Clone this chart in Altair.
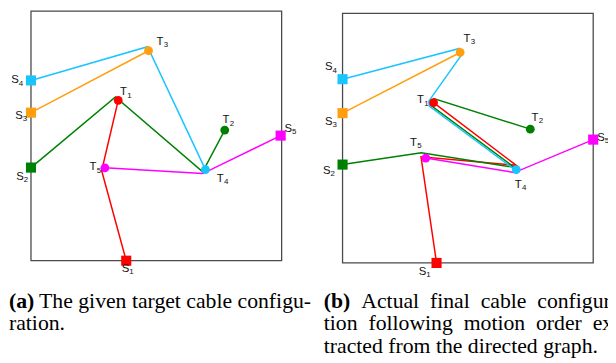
import altair as alt
import pandas as pd

# ---------------- data (panel-local units, box = 10 x 10) -------------
NODE_NAMES = ["S1", "S2", "S3", "S4", "S5", "T1", "T2", "T3", "T4", "T5"]
NODE_CABLE = ["red", "green", "orange", "cyan", "magenta",
              "red", "green", "orange", "cyan", "magenta"]

# panel (a): given target configuration
A_NODE_X = [3.80, 0.00, 0.00, 0.00, 9.96, 3.48, 7.73, 4.69, 6.96, 2.95]
A_NODE_Y = [0.00, 3.73, 5.93, 7.22, 5.01, 6.42, 5.23, 8.41, 3.65, 3.72]
A_LABEL_X = [3.77, -0.44, -0.48, -0.64, 10.26, 3.69, 7.78, 5.15, 7.55, 2.47]
A_LABEL_Y = [-0.33, 3.35, 5.80, 7.22, 5.28, 6.75, 5.62, 8.76, 3.27, 3.74]

# panel (b): actual final configuration
B_NODE_X = [3.75, 0.00, 0.00, 0.00, 10.00, 3.63, 7.49, 4.69, 6.93, 3.32]
B_NODE_Y = [0.00, 3.94, 6.00, 7.36, 4.94, 6.42, 5.36, 8.43, 3.74, 4.20]
B_LABEL_X = [3.19, -0.63, -0.55, -0.55, 10.31, 3.11, 7.68, 4.96, 7.01, 2.83]
B_LABEL_Y = [-0.36, 3.68, 5.65, 7.83, 5.02, 6.52, 5.81, 8.97, 3.12, 4.82]

CABLES = ["red", "green", "orange", "cyan", "magenta"]
CABLE_COLORS = ["#ff0000", "#008000", "#ff9f10", "#1ac4ff", "#ff00ff"]

A_PATH_X = {
    "red": [3.80, 2.82, 3.48],
    "green": [0.00, 3.37, 6.85, 7.73],
    "orange": [0.00, 4.69],
    "cyan": [0.00, 4.65, 6.96],
    "magenta": [2.95, 6.85, 9.96],
}
A_PATH_Y = {
    "red": [0.00, 3.60, 6.42],
    "green": [3.73, 6.56, 3.56, 5.23],
    "orange": [5.93, 8.41],
    "cyan": [7.22, 8.57, 3.65],
    "magenta": [3.72, 3.49, 5.01],
}
B_PATH_X = {
    "red": [3.75, 3.13, 6.93, 3.63],
    "green": [0.00, 3.14, 6.85, 3.48, 3.64, 7.49],
    "orange": [0.00, 4.69],
    "cyan": [0.00, 4.66, 4.74, 3.44, 3.46, 6.92],
    "magenta": [3.32, 6.85, 10.00],
}
B_PATH_Y = {
    "red": [0.00, 4.25, 3.91, 6.42],
    "green": [3.94, 4.41, 3.83, 6.34, 6.58, 5.36],
    "orange": [6.00, 8.43],
    "cyan": [7.36, 8.59, 8.32, 6.48, 6.28, 3.70],
    "magenta": [4.20, 3.62, 4.94],
}

# captions: (bold tag, text runs); justified lines are widened with no-break spaces
NB = "\u00a0 "
CAP_A_TEXT = ["(a)", "The given target cable configu-", "ration."]
CAP_A_BOLD = [True, False, False]
CAP_A_X = [-0.878, 0.323, -0.878]
CAP_A_Y = [-1.60, -1.60, -2.51]

CAP_B_TEXT = ["(b)",
              NB.join(["Actual", "final", "cable", "configura-"]),
              NB.join(["tion", "following", "motion", "order", "ex-"]),
              "tracted from the directed graph."]
CAP_B_BOLD = [True, False, False, False]
CAP_B_X = [-0.748, 0.748, -0.748, -0.748]
CAP_B_Y = [-1.51, -1.51, -2.42, -3.33]

# ---------------- layout -------------------------------------------------
OFFSET = {"a": (0.0, 0.0), "b": (12.43, -0.09)}
X_DOMAIN = [-0.917, 23.02]
Y_DOMAIN = [-4.004, 10.028]
W, H = 608, 355

# ---------------- tables -------------------------------------------------
def nodes(panel, xs, ys, lx, ly):
    ox, oy = OFFSET[panel]
    rows = []
    for n, c, x, y, a, b in zip(NODE_NAMES, NODE_CABLE, xs, ys, lx, ly):
        rows.append(dict(panel=panel, name=n, letter=n[0], sub=n[1:], cable=c,
                         kind=n[0], x=x + ox, y=y + oy, lx=a + ox, ly=b + oy))
    return rows

node_df = pd.DataFrame(nodes("a", A_NODE_X, A_NODE_Y, A_LABEL_X, A_LABEL_Y)
                       + nodes("b", B_NODE_X, B_NODE_Y, B_LABEL_X, B_LABEL_Y))

def paths(panel, px, py):
    ox, oy = OFFSET[panel]
    rows = []
    for cab in CABLES:
        for i, (x, y) in enumerate(zip(px[cab], py[cab])):
            rows.append(dict(key=panel + cab, cable=cab, idx=i, x=x + ox, y=y + oy))
    return rows

path_df = pd.DataFrame(paths("a", A_PATH_X, A_PATH_Y) + paths("b", B_PATH_X, B_PATH_Y))

box_df = pd.DataFrame([
    dict(x=0 + OFFSET[p][0], x2=10 + OFFSET[p][0], y=0 + OFFSET[p][1], y2=10 + OFFSET[p][1])
    for p in ("a", "b")
])

cap_rows = []
for p, texts, bold, xs, ys_ in (("a", CAP_A_TEXT, CAP_A_BOLD, CAP_A_X, CAP_A_Y),
                                ("b", CAP_B_TEXT, CAP_B_BOLD, CAP_B_X, CAP_B_Y)):
    ox, oy = OFFSET[p]
    for t, b, x, y in zip(texts, bold, xs, ys_):
        cap_rows.append(dict(word=t, bold=b, x=x + ox, y=y + oy))
cap_df = pd.DataFrame(cap_rows)

# ---------------- encodings ----------------------------------------------
xs = alt.Scale(domain=X_DOMAIN, nice=False, zero=False)
ys = alt.Scale(domain=Y_DOMAIN, nice=False, zero=False)
color = alt.Color("cable:N", scale=alt.Scale(domain=CABLES, range=CABLE_COLORS), legend=None)

def X(f="x"):
    return alt.X(f"{f}:Q", scale=xs, axis=None)

def Y(f="y"):
    return alt.Y(f"{f}:Q", scale=ys, axis=None)

boxes = alt.Chart(box_df).mark_rect(fill="transparent", stroke="#4a4a4a", strokeWidth=1.3).encode(
    x=X(), x2="x2:Q", y=Y(), y2="y2:Q")

lines = alt.Chart(path_df).mark_line(strokeWidth=1.5).encode(
    x=X(), y=Y(), color=color, detail="key:N", order="idx:Q")

squares = alt.Chart(node_df).transform_filter(alt.datum.kind == "S").mark_square(
    size=105, opacity=1).encode(x=X(), y=Y(), color=color)

circles = alt.Chart(node_df).transform_filter(alt.datum.kind == "T").mark_circle(
    size=80, opacity=1).encode(x=X(), y=Y(), color=color)

letters = alt.Chart(node_df).mark_text(
    font="Liberation Sans", fontSize=11.5, align="center", baseline="middle", color="#111111"
).encode(x=X("lx"), y=Y("ly"), text="letter:N")

subs = alt.Chart(node_df).mark_text(
    font="Liberation Sans", fontSize=8, align="left", baseline="middle", color="#111111",
    dx=3.8, dy=3.5
).encode(x=X("lx"), y=Y("ly"), text="sub:N")

cap_norm = alt.Chart(cap_df).transform_filter(alt.datum.bold == False).mark_text(
    font="Liberation Serif", fontSize=22, align="left", baseline="middle", color="#000000"
).encode(x=X(), y=Y(), text="word:N")

cap_bold = alt.Chart(cap_df).transform_filter(alt.datum.bold == True).mark_text(
    font="Liberation Serif", fontSize=22, fontWeight="bold", align="left", baseline="middle",
    color="#000000"
).encode(x=X(), y=Y(), text="word:N")

chart = alt.layer(boxes, lines, squares, circles, letters, subs, cap_norm, cap_bold).properties(
    width=W, height=H, padding=0,
    autosize=alt.AutoSizeParams(type="none"),
).configure_view(stroke=None)

chart.save("out.html", embed_options={"renderer": "svg", "actions": False})
